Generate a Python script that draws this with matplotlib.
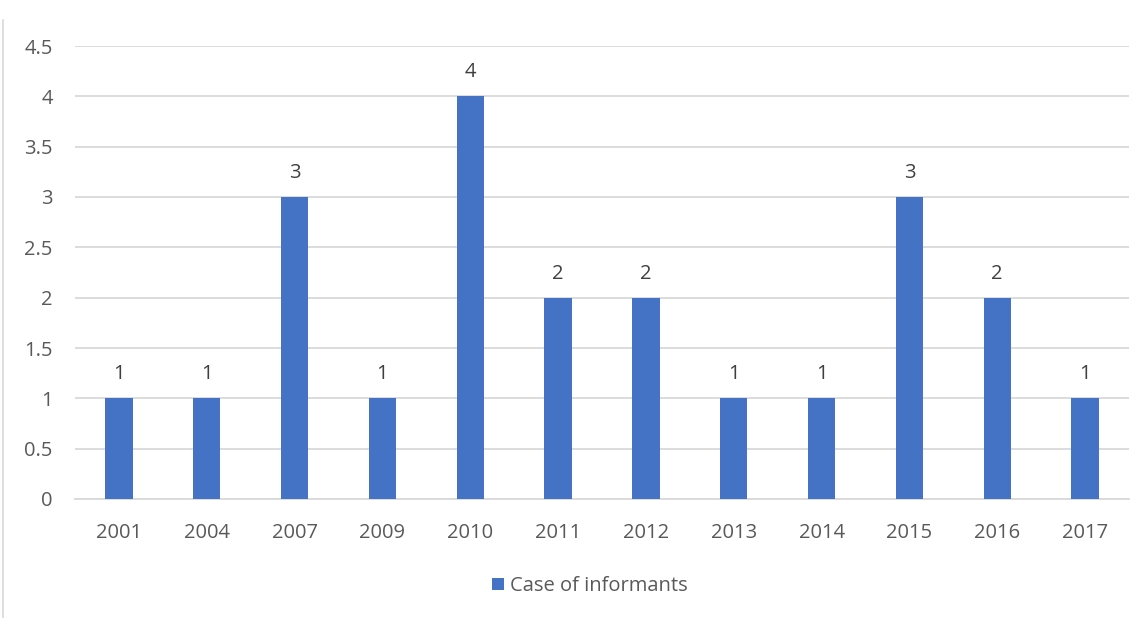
import matplotlib
matplotlib.use("Agg")
import matplotlib.pyplot as plt
from matplotlib.lines import Line2D

years = ["2001", "2004", "2007", "2009", "2010", "2011", "2012", "2013", "2014", "2015", "2016", "2017"]
cases = [1, 1, 3, 1, 4, 2, 2, 1, 1, 3, 2, 1]
yticks = [0, 0.5, 1, 1.5, 2, 2.5, 3, 3.5, 4, 4.5]
ytick_labels = ["0", "0.5", "1", "1.5", "2", "2.5", "3", "3.5", "4", "4.5"]

plt.rcParams['font.family'] = ['Open Sans', 'DejaVu Sans']
txt = "#595959"
fs = 14.5
fig = plt.figure(figsize=(11.44, 6.18), dpi=100)
ax = fig.add_axes([75/1144, 119/618, (1129-75)/1144, (499-46)/618])

x = list(range(len(years)))
bars = ax.bar(x, cases, width=0.31, color="#4472C4", zorder=3, label="Case of informants")
for xi, v in zip(x, cases):
    ax.annotate(str(v), (xi, v), xytext=(0, 10), textcoords="offset points",
                ha="center", va="bottom", fontsize=fs, color="#404040")

ax.set_xlim(-0.5, len(years) - 0.5)
ax.set_ylim(0, 4.5)
ax.set_yticks(yticks)
ax.set_yticklabels(ytick_labels)
ax.set_xticks(x)
ax.set_xticklabels(years)
ax.tick_params(axis="both", length=0, labelsize=fs, colors=txt)
ax.tick_params(axis="y", pad=16)
ax.tick_params(axis="x", pad=17)
ax.grid(axis="y", color="#D9D9D9", linewidth=1.3, zorder=0)
for s in ["top", "right", "left"]:
    ax.spines[s].set_visible(False)
ax.spines["bottom"].set_color("#D9D9D9")
ax.spines["bottom"].set_linewidth(1.3)

leg = fig.legend(handles=[bars], labels=["Case of informants"], loc="center",
                 bbox_to_anchor=(590/1144, 1 - 586/618), frameon=False,
                 fontsize=fs, handlelength=0.6, handleheight=0.6, handletextpad=0.3)
for t in leg.get_texts():
    t.set_color(txt)

fig.add_artist(Line2D([3/1144, 3/1144], [0, 1 - 20/618], transform=fig.transFigure,
                      color="#D9D9D9", linewidth=1.2))

fig.savefig("out.png", dpi=100)
